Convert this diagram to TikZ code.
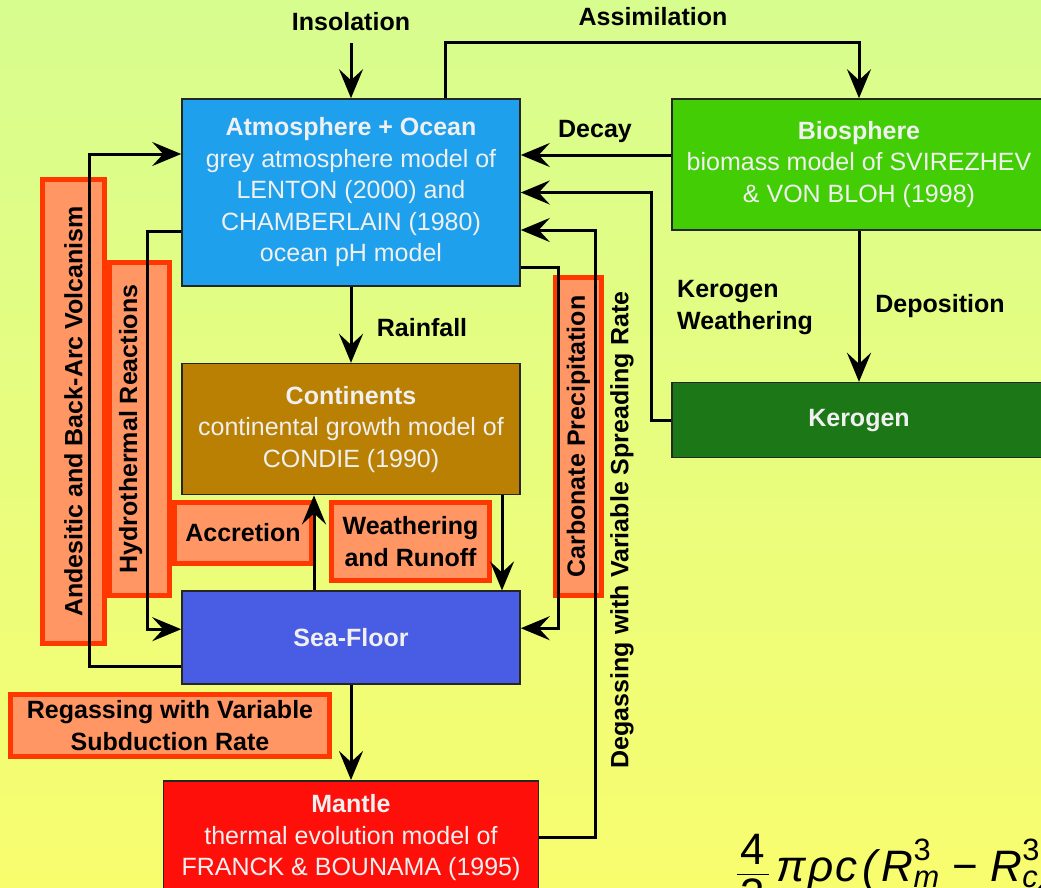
\documentclass[tikz,border=0pt]{standalone}
\usepackage{amsmath}
\usepackage{fontspec}
\setmainfont{Liberation Sans}
\usetikzlibrary{positioning}
\usetikzlibrary{arrows.meta}
\definecolor{bgtop}{RGB}{215,253,143}
\definecolor{bgbottom}{RGB}{248,253,110}
\definecolor{atmofill}{RGB}{30,160,236}
\definecolor{biofill}{RGB}{66,205,5}
\definecolor{kerofill}{RGB}{28,120,22}
\definecolor{contfill}{RGB}{185,128,3}
\definecolor{seafill}{RGB}{72,92,228}
\definecolor{mantlefill}{RGB}{255,15,10}
\definecolor{procfill}{RGB}{255,150,100}
\definecolor{procline}{RGB}{255,55,0}

\begin{document}
\begin{tikzpicture}[x=1pt, y=-1pt,
    >={Stealth[length=29pt,width=24pt,inset=11pt]},
    modelbox/.style={rectangle, align=center, draw=black!85, line width=1.6pt, text=white!94!black, inner sep=0pt, font=\fontsize{25}{31.5}\selectfont},
    processbox/.style={rectangle, align=center, draw=procline, fill=procfill, line width=5pt, inner sep=0pt, font=\fontsize{25}{31.5}\selectfont\bfseries},
    flowlabel/.style={align=center, inner sep=0pt, font=\fontsize{25}{31.5}\selectfont\bfseries},
    link/.style={->, line width=3pt},
    ]

    %Background
    \useasboundingbox (0,0) rectangle (1041,887);
    \clip (0,0) rectangle (1041,887);
    \fill[top color=bgtop, bottom color=bgbottom] (0,0) rectangle (1041,887);

    %Process boxes
    \node[processbox, rotate=90, minimum width=464pt, minimum height=62pt] (volcanism) at (73.5,411.5) {Andesitic and Back-Arc Volcanism};
    \node[processbox, rotate=90, minimum width=333pt, minimum height=60pt, text depth=23pt] (hydrothermal) at (139.5,429) {Hydrothermal Reactions};
    \node[processbox, minimum width=137pt, minimum height=61pt] (accretion) at (243,533) {Accretion};
    \node[processbox, minimum width=158pt, minimum height=78pt] (weathering) at (410.5,541.5) {Weathering\\and Runoff};
    \node[processbox, rotate=90, minimum width=318pt, minimum height=46pt] (carbonate) at (578.5,436.5) {Carbonate Precipitation};
    \node[processbox, minimum width=319pt, minimum height=62pt] (regassing) at (170,725.5) {Regassing with Variable\\Subduction Rate};

    %Nodes
    \node[modelbox, fill=atmofill, minimum width=338pt, minimum height=187pt] (atmo) at (351,192.5)
        {\textbf{Atmosphere + Ocean}\\grey atmosphere model of\\LENTON (2000) and\\CHAMBERLAIN (1980)\\ocean pH model};
    \node[modelbox, fill=contfill, minimum width=338pt, minimum height=131pt] (cont) [below=76pt of atmo]
        {\textbf{Continents}\\continental growth model of\\CONDIE (1990)};
    \node[modelbox, fill=seafill, minimum width=338pt, minimum height=93pt] (sea) [below=95pt of cont]
        {\textbf{Sea-Floor}};
    \node[modelbox, fill=mantlefill, minimum width=375pt, minimum height=114pt] (mantle) [below=95pt of sea]
        {\textbf{Mantle}\\thermal evolution model of\\FRANCK \& BOUNAMA (1995)};
    \node[modelbox, fill=biofill, minimum width=374pt, minimum height=131pt] (bio) at (859,164.5)
        {\textbf{Biosphere}\\biomass model of SVIREZHEV\\\& VON BLOH (1998)};
    \node[modelbox, fill=kerofill, minimum width=374pt, minimum height=75pt] (kero) [below=151pt of bio]
        {\textbf{Kerogen}};

    %Labels
    \node[flowlabel] (insol) at (351,22) {Insolation};
    \node[flowlabel] (assim) at (653,17) {Assimilation};
    \node[flowlabel] (decay) at (595,131) {Decay};
    \node[flowlabel] (rain) at (422,328) {Rainfall};
    \node[flowlabel, align=left, anchor=west] (kerweath) at (677,307.5) {Kerogen\\Weathering};
    \node[flowlabel] (depo) at (940,306) {Deposition};
    \node[flowlabel, rotate=90] (degas) at (622,530) {Degassing with Variable Spreading Rate};

    %Lines
    \draw[link, shorten <=12pt] (insol) -- (atmo);
    \draw[link] ([xshift=94pt]atmo.north) -- ++(0,-56) -| (bio.north);
    \draw[link] ([yshift=9.5pt]bio.west) -- ([yshift=37.5pt]atmo.east);
    \draw[link] (kero.west) -- ++(-20,0) |- (atmo.east);
    \draw[link] (mantle.east) -- ++(56,0) |- ([yshift=-37.5pt]atmo.east);
    \draw[link] ([yshift=-74.5pt]atmo.east) -- ++(38,0) |- ([yshift=9.5pt]sea.east);
    \draw[link] (bio) -- (kero);
    \draw[link] (atmo) -- (cont);
    \draw[link] ([xshift=-37pt]sea.north) -- ([xshift=-37pt]cont.south);
    \draw[link] ([xshift=151pt]cont.south) -- ([xshift=151pt]sea.north);
    \draw[link] (sea) -- (mantle);
    \draw[link] ([yshift=-28.5pt]sea.west) -- ++(-92,0) |- ([yshift=38.5pt]atmo.west);
    \draw[link] ([yshift=-38.5pt]atmo.west) -- ++(-34,0) |- ([yshift=8.5pt]sea.west);

    %Formula
    \node[anchor=base west, inner sep=0pt, font=\fontsize{44}{50}\selectfont] (volume) at (735.5,881)
        {$\dfrac{\kern4pt\text{4}\kern4pt}{\kern4pt\text{3}\kern4pt}\kern6pt\textit{π}\kern2pt\textit{ρ}\kern2pt\textit{c}\kern5pt\textit{(}\kern5pt\textit{R}^{\text{3}}_{\textit{m}}\kern7pt\mathbin{\text{−}}\kern7pt\textit{R}^{\text{3}}_{\textit{c}}\textit{)}$};

\end{tikzpicture}
\end{document}
